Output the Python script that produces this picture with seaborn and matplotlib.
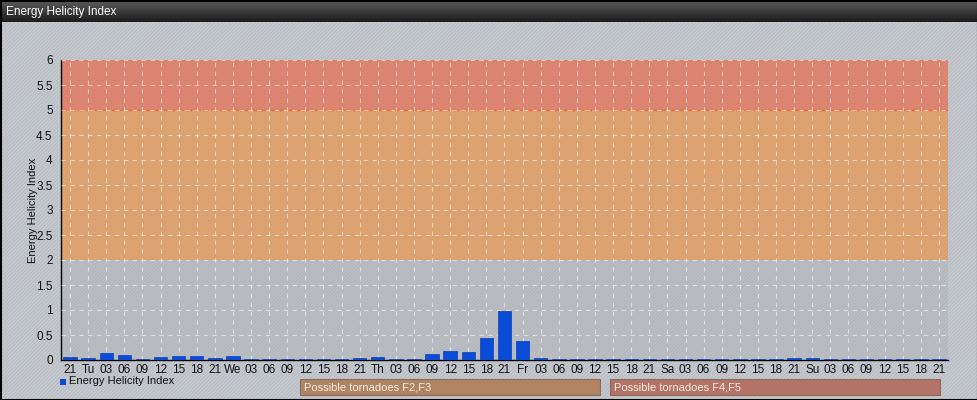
import numpy as np
import pandas as pd
import matplotlib
matplotlib.use("Agg")
import matplotlib.pyplot as plt
from matplotlib.patches import Rectangle
import seaborn as sns

labels = ["21",
          "Tu", "03", "06", "09", "12", "15", "18", "21",
          "We", "03", "06", "09", "12", "15", "18", "21",
          "Th", "03", "06", "09", "12", "15", "18", "21",
          "Fr", "03", "06", "09", "12", "15", "18", "21",
          "Sa", "03", "06", "09", "12", "15", "18", "21",
          "Su", "03", "06", "09", "12", "15", "18", "21"]
values = [0.06,
          0.05, 0.14, 0.10, 0.02, 0.07, 0.09, 0.08, 0.04,
          0.08, 0.03, 0.02, 0.02, 0.02, 0.02, 0.02, 0.04,
          0.07, 0.02, 0.02, 0.13, 0.19, 0.16, 0.44, 0.98,
          0.38, 0.05, 0.02, 0.015, 0.015, 0.015, 0.015, 0.015,
          0.015, 0.015, 0.015, 0.015, 0.03, 0.015, 0.02, 0.05,
          0.05, 0.02, 0.015, 0.015, 0.015, 0.015, 0.015, 0.015]
yticks = [0, 0.5, 1, 1.5, 2, 2.5, 3, 3.5, 4, 4.5, 5, 5.5, 6]
ytick_labels = ["0", "0.5", "1", "1.5", "2", "2.5", "3", "3.5", "4", "4.5", "5", "5.5", "6"]
bands = [(2, 5, "#e2a36c", "Possible tornadoes F2,F3", "#b08462"),
         (5, 6, "#e2826e", "Possible tornadoes F4,F5", "#b47366")]
title = "Energy Helicity Index"
series_name = "Energy Helicity Index"

sns.set_theme(style="white")
plt.rcParams["font.family"] = ["Liberation Sans", "DejaVu Sans"]

W, H = 978, 400
fig = plt.figure(figsize=(W / 100, H / 100), dpi=100)
fig.patch.set_facecolor("#c6cacf")

# hatched background over the whole figure
bgax = fig.add_axes([0, 0, 1, 1], zorder=-10)
bgax.set_xlim(0, W)
bgax.set_ylim(H, 0)
bgax.axis("off")
plt.rcParams["hatch.linewidth"] = 0.6
bgax.add_patch(Rectangle((0, 0), W, H, facecolor="#c6cacf", edgecolor="#b3b8bf",
                         hatch="/////////", linewidth=0))
# title bar gradient
grad = np.linspace(0, 1, 50).reshape(-1, 1)
cmap = matplotlib.colors.LinearSegmentedColormap.from_list("tb", ["#5c5c5c", "#1c1c1c"])
bgax.imshow(grad, extent=(0, W, 22, 0), cmap=cmap, aspect="auto", zorder=2)
bgax.text(6, 12, title, color="white", fontsize=8.5, va="center", ha="left", zorder=3)
bgax.add_patch(Rectangle((0.5, 0.5), W - 1, H - 1, facecolor="none",
                         edgecolor="black", linewidth=1.5, zorder=4))

# legend squares & boxes
bgax.add_patch(Rectangle((59.5, 378.5), 6, 6, facecolor="#0a4bd8", edgecolor="none", zorder=3))
bgax.text(69, 381, series_name, fontsize=8, va="center", ha="left", color="#111111", zorder=3)
boxes = [(300, 600), (610, 940)]
for (x0, x1), band in zip(boxes, bands):
    bgax.add_patch(Rectangle((x0, 379), x1 - x0, 16, facecolor=band[4],
                             edgecolor="#8a6a5a", linewidth=0.8, zorder=3))
    bgax.text(x0 + 4, 387.5, band[3], fontsize=8, va="center", ha="left",
              color="#f4ece4", zorder=4)

# main axes
ax = fig.add_axes([61 / W, 40 / H, 887 / W, 300 / H])
ax.set_facecolor("#b9bdc2")
ax.patch.set_alpha(0.9)

df = pd.DataFrame({"slot": np.arange(len(values)), "value": values})
sns.barplot(data=df, x="slot", y="value", color="#0a4bd8", saturation=1,
            width=0.74, edgecolor="#0a3fb8", linewidth=0.5, ax=ax, zorder=3)

for lo, hi, col, _, _ in bands:
    ax.axhspan(lo, hi, facecolor=col, alpha=0.95, zorder=0.5, linewidth=0)
ax.axhline(5, color="#ee6a30", linestyle=(0, (4, 2)), linewidth=1.0, zorder=1)
ax.add_patch(Rectangle((0, 0), 1, 1, transform=ax.transAxes, facecolor="none",
                       edgecolor=(0.5, 0.45, 0.45, 0.09), hatch="/////////",
                       linewidth=0, zorder=0.8))

ax.set_xlim(-0.5, len(values) - 0.5)
ax.set_ylim(0, 6)
ax.set_yticks(yticks)
ax.set_yticklabels(ytick_labels)
ax.set_xticks(np.arange(len(values)))
ax.set_xticklabels(labels)
ax.tick_params(axis="both", labelsize=8.5, colors="#111111", length=4, width=1,
               direction="out", pad=2)
ax.tick_params(axis="x", length=2, pad=1)
ax.grid(True, color="white", alpha=0.5, linestyle=(0, (4, 4)), linewidth=0.8, zorder=1)
ax.set_axisbelow(False)
for line in ax.get_xgridlines() + ax.get_ygridlines():
    line.set_zorder(1)
ax.set_xlabel("")
ax.set_ylabel("Energy Helicity Index", fontsize=8, color="#111111", labelpad=3)
ax.yaxis.set_label_coords(-23 / 887, 0.5)
for s in ["top", "right"]:
    ax.spines[s].set_visible(False)
for s in ["left", "bottom"]:
    ax.spines[s].set_color("black")
    ax.spines[s].set_linewidth(1)
    ax.spines[s].set_zorder(2.5)

fig.savefig("out.png", dpi=100, facecolor=fig.get_facecolor())
